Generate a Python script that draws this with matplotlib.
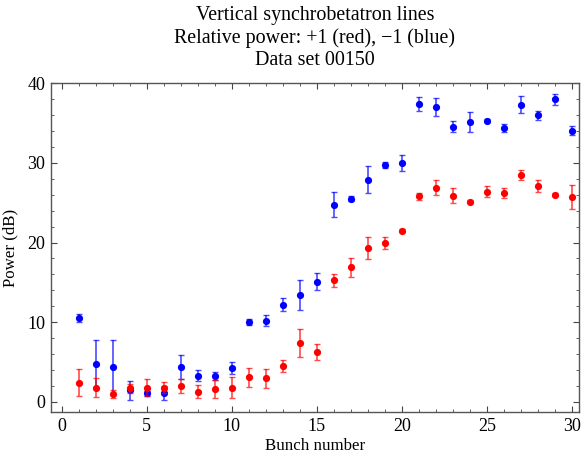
import numpy as np
import matplotlib.pyplot as plt
from matplotlib.ticker import MultipleLocator

plt.rcParams['font.family'] = ['Liberation Serif', 'DejaVu Serif']

# ================================================================
# DONNÉES
# ================================================================
bunch = np.arange(1, 31)

power_red = [2.4, 1.8, 1.05, 1.7, 1.8, 1.8, 2.0, 1.3, 1.6, 1.8,
             3.1, 2.95, 4.5, 7.4, 6.3, 15.25, 16.9, 19.3, 20.0, 21.5,
             25.8, 26.9, 25.9, 25.1, 26.4, 26.2, 28.5, 27.1, 26.0, 25.7]
err_red = [1.7, 1.2, 0.5, 0.6, 1.1, 0.7, 0.9, 0.8, 1.1, 1.3,
           1.2, 1.15, 0.75, 1.8, 1.0, 0.85, 1.2, 1.4, 0.75, 0.2,
           0.45, 0.9, 0.9, 0.2, 0.75, 0.6, 0.6, 0.8, 0.2, 1.5]

power_blue = [10.5, 4.8, 4.4, 1.45, 1.1, 1.1, 4.4, 3.3, 3.2, 4.2,
              10.0, 10.2, 12.2, 13.4, 15.1, 24.75, 25.5, 27.9, 29.7, 30.0,
              37.4, 37.0, 34.55, 35.1, 35.3, 34.4, 37.3, 35.96, 37.96, 34.05]
err_blue = [0.5, 3.0, 3.4, 1.15, 0.3, 0.9, 1.5, 0.7, 0.5, 0.75,
            0.35, 0.65, 0.8, 1.9, 1.05, 1.6, 0.3, 1.65, 0.4, 1.0,
            0.9, 1.15, 0.65, 1.25, 0.2, 0.5, 1.1, 0.6, 0.7, 0.6]

# ================================================================
# FIGURE
# ================================================================
fig = plt.figure(figsize=(5.82, 4.57), dpi=100)
ax = fig.add_axes([0.0871, 0.0978, 0.9077, 0.7212])

for y, e, c in [(power_blue, err_blue, (0, 0, 1)), (power_red, err_red, (1, 0, 0))]:
    ax.errorbar(bunch, y, yerr=e, fmt='none', ecolor=c, alpha=0.7,
                elinewidth=1.2, capsize=2.2, capthick=1.0)
    ax.plot(bunch, y, 'o', color=c, ms=5.2, mew=0)

ax.set_xlim(-0.65, 30.4)
ax.set_ylim(-1.3, 40.05)
ax.xaxis.set_major_locator(MultipleLocator(5))
ax.xaxis.set_minor_locator(MultipleLocator(1))
ax.yaxis.set_major_locator(MultipleLocator(10))
ax.yaxis.set_minor_locator(MultipleLocator(2))
ax.tick_params(which='both', direction='in', top=True, right=True,
               labelsize=13, color='#444444', pad=4)
ax.tick_params(which='major', length=4.5, width=0.8)
ax.tick_params(which='minor', length=2.5, width=0.6)
for s in ax.spines.values():
    s.set_color('#555555')
    s.set_linewidth(1.0)

ax.set_xlabel("Bunch number", fontsize=12.2, labelpad=2)
ax.set_ylabel("Power (dB)", fontsize=12.2, labelpad=6)
ax.set_title("Vertical synchrobetatron lines\n"
             "Relative power: +1 (red), \u22121 (blue)\n"
             "Data set 00150", fontsize=14.4, linespacing=1.2, pad=13)

plt.savefig("out.png", dpi=100)
